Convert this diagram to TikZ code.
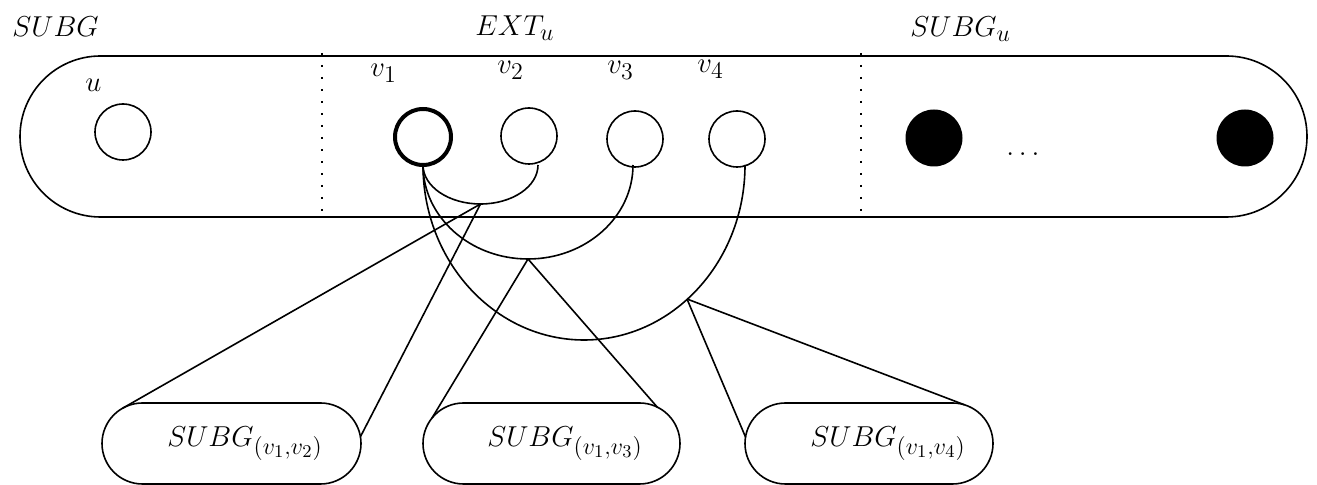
\documentclass[tikz,border=0pt]{standalone}
\usetikzlibrary{shapes.misc}
\DeclareMathSizes{14.4}{14.4}{12.5}{9}
\begin{document}
\begin{tikzpicture}[x=0.5pt,y=-0.5pt,
  every node/.style={font=\fontsize{14.4}{17}\selectfont},
  lbl/.style={anchor=base west,inner sep=0pt},
  vtx/.style={circle,draw,line width=0.8pt,minimum size=28pt,inner sep=0pt,outer sep=0pt},
  vthick/.style={vtx,line width=2pt},
  vfill/.style={circle,fill=black,minimum size=28.5pt,inner sep=0pt,outer sep=0pt},
  pill/.style={rounded rectangle,draw,line width=0.8pt,minimum height=40.5pt,inner sep=0pt,outer sep=0pt},
  dotline/.style={line width=1pt,dash pattern=on 1.2pt off 4.8pt},
  edge/.style={line width=0.8pt}]
\useasboundingbox (0,0) rectangle (1317,485);
% main container
\node[pill,minimum width=643.5pt,minimum height=80.5pt] (main) at (663.5,136.5) {};
\coordinate (d1t) at (322,53);
\coordinate (d1b) at (322,217);
\coordinate (d2t) at (861,53);
\coordinate (d2b) at (861,217);
\draw[dotline] (d1t) -- (d1b);
\draw[dotline] (d2t) -- (d2b);
% section labels
\node[lbl] (lsubg) at (12,37) {$SUBG$};
\node[lbl] (lext) at (475,36) {$EXT_u$};
\node[lbl] (lsubgu) at (910,37) {$SUBG_u$};
% vertices
\node[vtx] (u) at (123,132) {};
\node[vthick] (v1) at (423,137) {};
\node[vtx] (v2) at (529,136) {};
\node[vtx] (v3) at (635,139) {};
\node[vtx] (v4) at (737,139) {};
\node[vfill] (f1) at (934,138) {};
\node[vfill] (f2) at (1245,138) {};
\node[lbl] (ldots) at (1006,156) {$\ldots$};
% vertex labels
\node[lbl] (lu) at (85,92) {$u$};
\node[lbl] (lv1) at (370,77) {$v_1$};
\node[lbl] (lv2) at (497,74) {$v_2$};
\node[lbl] (lv3) at (607,74) {$v_3$};
\node[lbl] (lv4) at (697,73) {$v_4$};
% arcs
\draw[edge] (v1.south) arc[start angle=180,end angle=360,x radius=28.75pt,y radius=19.5pt];
\draw[edge] (v1.south) arc[start angle=180,end angle=360,x radius=52.5pt,y radius=47pt];
\draw[edge] (v1.south) arc[start angle=180,end angle=360,x radius=80.5pt,y radius=87.5pt];
\coordinate (a1) at (480.5,204);
\coordinate (a2) at (528,259);
\coordinate (a3) at (687,299);
% sub-boxes
\node[pill,minimum width=129.5pt] (b1) at (231.5,443.5) {\hspace*{13.5pt}$SUBG_{(v_1,v_2)}$};
\node[pill,minimum width=128.5pt] (b2) at (551.5,443.5) {\hspace*{13.5pt}$SUBG_{(v_1,v_3)}$};
\node[pill,minimum width=124pt] (b3) at (869,443.5) {\hspace*{19pt}$SUBG_{(v_1,v_4)}$};
% connectors
\draw[edge] (a1) -- (b1.162);
\draw[edge] (a1) -- (b1.3);
\draw[edge] (a2) -- (b2.168);
\draw[edge] (a2) -- (b2.19);
\draw[edge] (a3) -- (b3.177);
\draw[edge] (a3) -- (b3.22);
\end{tikzpicture}
\end{document}
